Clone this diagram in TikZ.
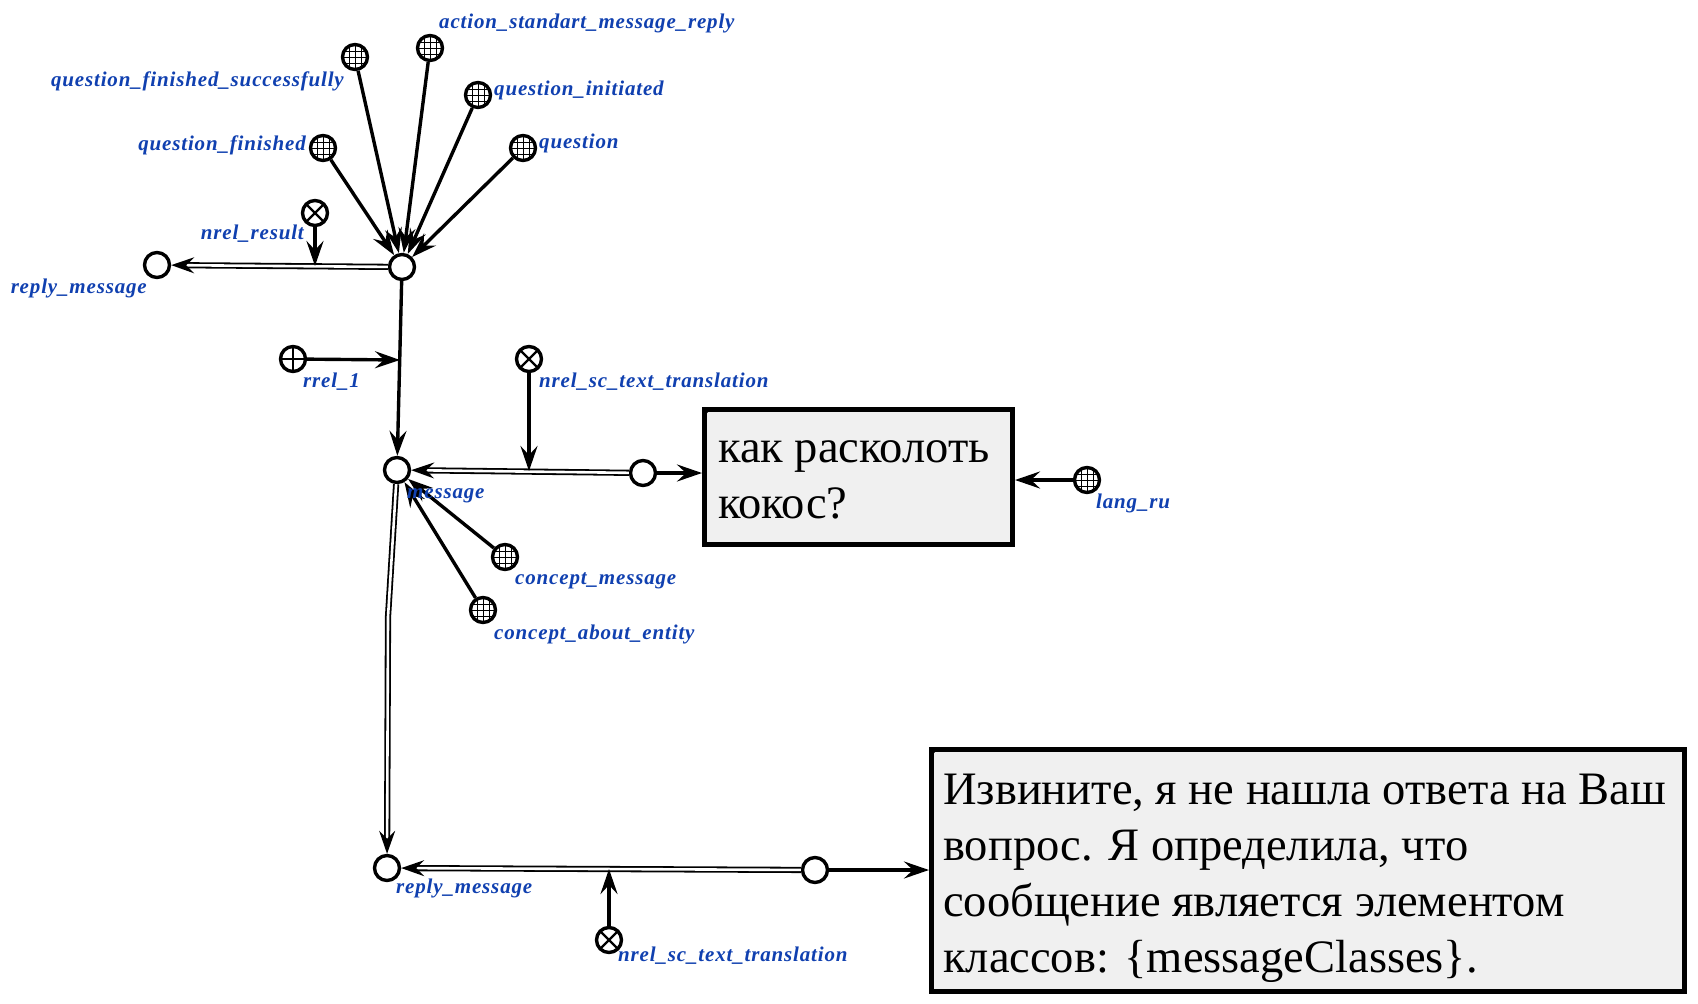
\documentclass[tikz,border=0pt]{standalone}
\usepackage{fontspec}
\setmainfont{Liberation Serif}
\newfontfamily\lblfont[LetterSpace=4]{Liberation Serif}
\usetikzlibrary{arrows.meta,calc}
\definecolor{lblblue}{RGB}{16,64,176}
\definecolor{boxgray}{RGB}{240,240,240}
\begin{document}
\begin{tikzpicture}[x=1pt,y=-1pt,
  scnode/.style={circle, draw, line width=3.4pt, minimum size=25pt, inner sep=0pt, fill=white},
  classnode/.style={scnode, path picture={\foreach \d in {-6,0,6}{%
      \draw[line width=0.9pt] ([xshift=\d pt]path picture bounding box.north) -- ([xshift=\d pt]path picture bounding box.south);
      \draw[line width=0.9pt] ([yshift=\d pt]path picture bounding box.west) -- ([yshift=\d pt]path picture bounding box.east);}}},
  relnode/.style={scnode, path picture={%
      \draw[line width=2.4pt] (path picture bounding box.north west) -- (path picture bounding box.south east);
      \draw[line width=2.4pt] (path picture bounding box.north east) -- (path picture bounding box.south west);}},
  rolenode/.style={scnode, path picture={%
      \draw[line width=2.4pt] (path picture bounding box.north) -- (path picture bounding box.south);
      \draw[line width=2.4pt] (path picture bounding box.west) -- (path picture bounding box.east);}},
  lbl/.style={font=\lblfont\bfseries\itshape\fontsize{21}{25}\selectfont, text=lblblue, inner sep=0pt},
  arr/.style={line width=3.4pt, -{Stealth[length=25pt,width=17pt,inset=9pt]}},
  dbl/.style={double=white, double distance=2.6pt, line width=1.8pt, -{Stealth[length=23pt,width=16pt,inset=8pt]}},
  txtbox/.style={draw, line width=5pt, fill=boxgray, inner sep=0pt},
  boxtext/.style={font=\fontsize{46.5}{56}\selectfont, inner sep=0pt, align=left}
]
\useasboundingbox (0,0) rectangle (1698,1004);
\fill[white] (0,0) rectangle (1698,1004);

% nodes
\node[classnode] (qfs) at (355,57) {};
\node[classnode] (asmr) at (430,48) {};
\node[classnode] (qi) at (478,95) {};
\node[classnode] (qf) at (323,148) {};
\node[classnode] (q) at (523,148) {};
\node[relnode] (nres) at (315,213) {};
\node[scnode] (c1) at (402,267) {};
\node[scnode] (rm1) at (157,265) {};
\node[rolenode] (rrel) at (293,359) {};
\node[relnode] (nsct1) at (529,359) {};
\node[scnode] (msg) at (397,470) {};
\node[scnode] (lnk1) at (643,473) {};
\node[txtbox, minimum width=308pt, minimum height=135pt] (box1) at (858.5,477) {};
\node[classnode] (langru) at (1087,480) {};
\node[classnode] (cmsg) at (505,557) {};
\node[classnode] (cabout) at (483,610) {};
\node[scnode] (rm2) at (387,868) {};
\node[scnode] (lnk2) at (815,870) {};
\node[relnode] (nsct2) at (609,940) {};
\node[txtbox, minimum width=753pt, minimum height=242pt] (box2) at (1308,870.5) {};

\fill ([shift={(1,1)}]box1.north west) -- ++(9,0) -- ++(-9,9) -- cycle;
\fill ([shift={(1,1)}]box2.north west) -- ++(9,0) -- ++(-9,9) -- cycle;

\coordinate (bend) at (388,617);
\coordinate (m1) at (315,266);
\coordinate (m2) at (400,360);
\coordinate (m3) at (529,471);
\coordinate (m4) at (609,869);

% connectors
\foreach \s in {qfs,asmr,qi,qf,q} \draw[arr] (\s) -- (c1);
\draw[dbl] (c1) -- (rm1);
\draw[arr] (nres) -- (m1);
\draw[arr] (c1) -- (msg);
\draw[arr] (rrel) -- (m2);
\draw[dbl] (lnk1) -- (msg);
\draw[arr] (nsct1) -- (m3);
\draw[arr] (lnk1) -- (lnk1 -| box1.west);
\draw[arr] (langru) -- (langru -| box1.east);
\draw[arr] (cmsg) -- (msg);
\draw[arr] (cabout) -- (msg);
\draw[dbl] (msg) -- (bend) -- (rm2);
\draw[dbl] (lnk2) -- (rm2);
\draw[arr] (nsct2) -- (m4);
\draw[arr] (lnk2) -- (lnk2 -| box2.west);

% labels
\node[lbl, anchor=base west] (l-asmr) at (439,28) {action\_standart\_message\_reply};
\node[lbl, anchor=base east] (l-qfs) at (344,86) {question\_finished\_successfully};
\node[lbl, anchor=base west] (l-qi) at (494,95) {question\_initiated};
\node[lbl, anchor=base east] (l-qf) at (306,150) {question\_finished};
\node[lbl, anchor=base west] (l-q) at (539,148) {question};
\node[lbl, anchor=base east] (l-nres) at (304,239) {nrel\_result};
\node[lbl, anchor=base east] (l-rm1) at (147,293) {reply\_message};
\node[lbl, anchor=base west] (l-rrel) at (303,387) {rrel\_1};
\node[lbl, anchor=base west] (l-nsct1) at (539,387) {nrel\_sc\_text\_translation};
\node[lbl, anchor=base west] (l-msg) at (407,498) {message};
\node[lbl, anchor=base west] (l-cmsg) at (515,584) {concept\_message};
\node[lbl, anchor=base west] (l-cabout) at (494,639) {concept\_about\_entity};
\node[lbl, anchor=base west] (l-langru) at (1096,508) {lang\_ru};
\node[lbl, anchor=base west] (l-rm2) at (396,893) {reply\_message};
\node[lbl, anchor=base west] (l-nsct2) at (618,961) {nrel\_sc\_text\_translation};

% box texts (base = last line)
\node[boxtext, anchor=base west] (t1) at (718,518) {как расколоть\\кокос?};
\node[boxtext, anchor=base west] (t2) at (943,972) {Извините, я не нашла ответа на Ваш\\вопрос. Я определила, что\\сообщение является элементом\\классов: \{messageClasses\}.};
\end{tikzpicture}
\end{document}
